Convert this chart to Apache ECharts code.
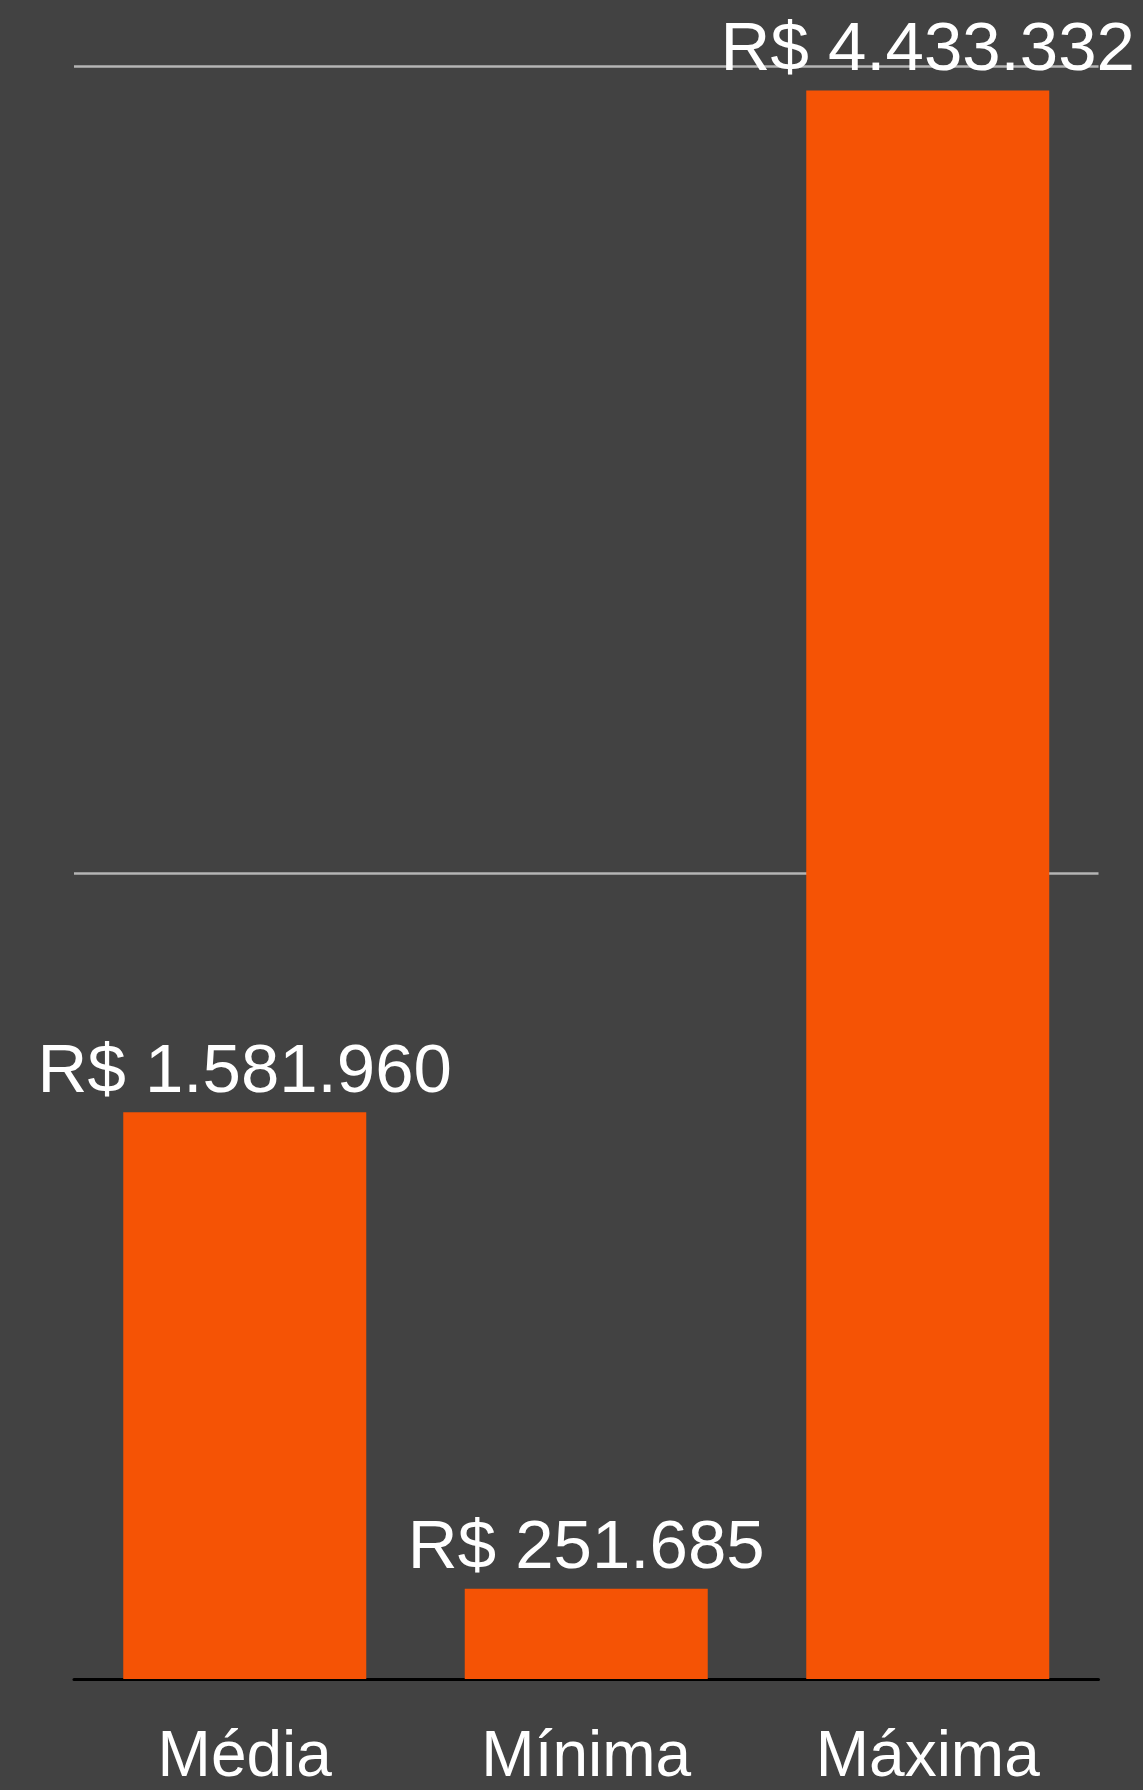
<!DOCTYPE html>
<html>
<head>
<meta charset="utf-8">
<script src="https://cdn.jsdelivr.net/npm/echarts@6/dist/echarts.min.js"></script>
<style>
html,body{margin:0;padding:0;background:#424242;}
#chart{width:1143px;height:1790px;}
</style>
</head>
<body>
<div id="chart"></div>
<script>
const categories = ['Média', 'Mínima', 'Máxima'];
const values = [1581960, 251685, 4433332];
const yMax = 4500000;
const yInterval = 2250000;

function fmtBRL(v) {
  return 'R$ ' + String(v).replace(/\B(?=(\d{3})+(?!\d))/g, '.');
}

const chart = echarts.init(document.getElementById('chart'), null, {renderer: 'canvas'});
chart.setOption({
  backgroundColor: '#424242',
  animation: false,
  textStyle: {fontFamily: '"Liberation Sans", Helvetica, Arial, sans-serif'},
  grid: {left: 74, right: 44.5, top: 66.5, bottom: 105.5, containLabel: false},
  xAxis: {
    type: 'category',
    data: categories,
    axisLine: {show: true, lineStyle: {color: '#000000', width: 3}},
    axisTick: {show: false},
    axisLabel: {
      color: '#ffffff',
      fontSize: 64,
      margin: 47,
      fontFamily: '"Liberation Sans", Helvetica, Arial, sans-serif'
    },
    splitLine: {show: false}
  },
  yAxis: {
    type: 'value',
    min: 0,
    max: yMax,
    interval: yInterval,
    axisLine: {show: false},
    axisTick: {show: false},
    axisLabel: {show: false},
    splitLine: {show: true, lineStyle: {color: '#b5b5b5', width: 2.5}}
  },
  series: [{
    type: 'bar',
    data: values,
    barWidth: 243,
    itemStyle: {color: '#f55305'},
    label: {
      show: true,
      position: 'top',
      distance: 5,
      color: '#ffffff',
      fontSize: 69,
      fontFamily: '"Liberation Sans", Helvetica, Arial, sans-serif',
      formatter: p => fmtBRL(p.value)
    }
  }]
});
</script>
</body>
</html>
